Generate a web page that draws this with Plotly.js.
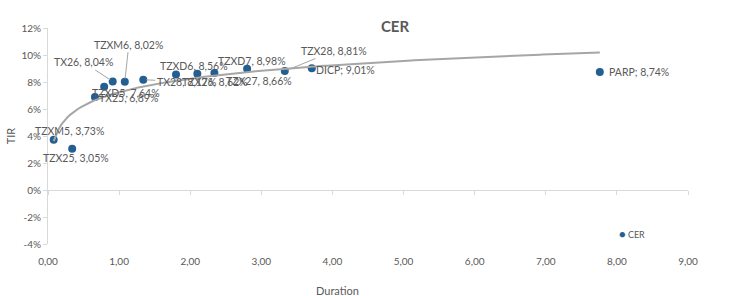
<!DOCTYPE html>
<html>
<head>
<meta charset="utf-8">
<script src="https://cdn.plot.ly/plotly-3.0.1.min.js"></script>
<style>html,body{margin:0;padding:0;background:#fff;}#chart{width:738px;height:296px;}</style>
</head>
<body>
<div id="chart"></div>
<script>
// ---- data ----
var bondNames = ["TZXM5","TZX25","TX25","TZXD5","TX26","TZXM6","TX28","TZXD6","TZX26","TZX27","TZXD7","TZX28","DICP","PARP"];
var durations = [0.08, 0.34, 0.66, 0.79, 0.91, 1.08, 1.34, 1.80, 2.10, 2.34, 2.80, 3.33, 3.71, 7.76];
var tirValues = [3.73, 3.05, 6.89, 7.64, 8.04, 8.02, 8.17, 8.56, 8.62, 8.66, 8.98, 8.81, 9.01, 8.74];
var labelSeparators = [",",",",",",",",",",",",",",",",",",",",",",",",";",";"];
var seriesName = "CER";
var yTickVals = [-4, -2, 0, 2, 4, 6, 8, 10, 12];
var yTickText = ["-4%", "-2%", "0%", "2%", "4%", "6%", "8%", "10%", "12%"];

// ---- label placement (pixels: text centre offset from point, screen y down) ----
var labelPlacement = [
  {dx: 16, dy: -9, leader: false},
  {dx: 4, dy: 9, leader: false},
  {dx: 34, dy: 1, leader: false},
  {dx: 22, dy: 6, leader: false},
  {dx: -29, dy: -19, leader: true},
  {dx: 4, dy: -37, leader: true},
  {dx: 43, dy: 2, leader: true},
  {dx: 18, dy: -8, leader: false},
  {dx: 18, dy: 8, leader: false},
  {dx: 45, dy: 8, leader: false},
  {dx: 5, dy: -8, leader: false},
  {dx: 49, dy: -20, leader: true},
  {dx: 34, dy: 2, leader: false},
  {dx: 39, dy: 0, leader: false}
];

var FONT = "Lato, 'Open Sans', sans-serif";
var TXT = "#595959";
var AXC = "#D9D9D9";
var BLUE = "#255E91";

// logarithmic trendline (least squares on ln(x)), like the spreadsheet trendline
var lnx = durations.map(function(d){return Math.log(d);});
var n = durations.length;
var mL = lnx.reduce(function(a,b){return a+b;},0)/n;
var mY = tirValues.reduce(function(a,b){return a+b;},0)/n;
var sxy = 0, sxx = 0;
for (var i=0;i<n;i++){ sxy += (lnx[i]-mL)*(tirValues[i]-mY); sxx += (lnx[i]-mL)*(lnx[i]-mL); }
var slope = sxy/sxx, intercept = mY - slope*mL;
var xMin = Math.min.apply(null, durations), xMax = Math.max.apply(null, durations);
var trendX = [], trendY = [];
for (var k=0;k<=200;k++){ var xv = xMin + (xMax-xMin)*k/200; trendX.push(xv); trendY.push(intercept + slope*Math.log(xv)); }

function fmt(v){ return v.toFixed(2).replace('.', ',') + '%'; }

var traces = [
  {
    x: trendX, y: trendY, type: 'scatter', mode: 'lines', xaxis: 'x2',
    line: {color: '#A6A6A6', width: 2}, showlegend: false, hoverinfo: 'skip'
  },
  {
    x: durations, y: tirValues, type: 'scatter', mode: 'markers', name: seriesName,
    marker: {color: BLUE, size: 8}, showlegend: false
  }
];

var annotations = [];
for (var j=0;j<n;j++){
  var p = labelPlacement[j];
  var txt = bondNames[j] + labelSeparators[j] + ' ' + fmt(tirValues[j]);
  var a = {x: durations[j], y: tirValues[j], xref: 'x', yref: 'y', text: txt,
           font: {family: FONT, size: 10.5, color: TXT}, xanchor: 'center', yanchor: 'middle'};
  if (p.leader){
    a.showarrow = true; a.ax = p.dx; a.ay = p.dy; a.arrowhead = 0; a.arrowwidth = 1;
    a.arrowcolor = '#A6A6A6'; a.standoff = 3;
  } else {
    a.showarrow = false; a.xshift = p.dx; a.yshift = -p.dy;
  }
  annotations.push(a);
}
annotations.push({xref: 'paper', yref: 'paper', x: -0.059, y: 0.5, text: 'TIR', textangle: -90,
  showarrow: false, font: {family: FONT, size: 11, color: TXT}, xanchor: 'center', yanchor: 'middle'});
annotations.push({xref: 'paper', yref: 'paper', x: (337-48)/640, y: -(290-244)/216, text: 'Duration',
  showarrow: false, font: {family: FONT, size: 11, color: TXT}, xanchor: 'center', yanchor: 'middle'});
// legend entry (spreadsheet style: marker then series name)
annotations.push({xref: 'paper', yref: 'paper', x: (617-48)/640, y: (244-233)/216,
  text: '<span style="color:' + BLUE + ';font-size:11px">●</span> ' + seriesName,
  showarrow: false, font: {family: FONT, size: 9, color: TXT}, xanchor: 'left', yanchor: 'middle'});

var layout = {
  width: 738, height: 296,
  margin: {l: 48, r: 50, t: 28, b: 52},
  paper_bgcolor: '#fff', plot_bgcolor: '#fff',
  separators: ',.',
  font: {family: FONT, size: 10, color: TXT},
  title: {text: '<b>CER</b>', x: 395/738, xanchor: 'center', xref: 'container',
          y: 1 - 27/296, yanchor: 'middle', yref: 'container',
          font: {family: FONT, size: 15, color: TXT}},
  xaxis: {range: [0, 9], dtick: 1, tick0: 0, tickformat: '.2f', showgrid: false, zeroline: false,
          showline: false, ticks: 'outside', ticklen: 8, tickcolor: 'rgba(0,0,0,0)',
          tickfont: {family: FONT, size: 10, color: TXT}, fixedrange: true},
  xaxis2: {range: [0, 9], dtick: 1, tick0: 0, overlaying: 'x', anchor: 'free', position: 0.25,
           side: 'bottom', showline: true, linecolor: AXC, linewidth: 1, ticks: 'outside', ticklen: 4,
           tickcolor: AXC, showticklabels: false, showgrid: false, zeroline: false},
  yaxis: {range: [-4, 12], tickvals: yTickVals, ticktext: yTickText, showgrid: false, zeroline: false,
          showline: true, linecolor: AXC, linewidth: 1, ticks: 'outside', ticklen: 4, tickcolor: AXC,
          tickfont: {family: FONT, size: 10, color: TXT}, fixedrange: true},
  showlegend: false,
  annotations: annotations
};

Plotly.newPlot('chart', traces, layout, {staticPlot: true, displayModeBar: false});
</script>
</body>
</html>
